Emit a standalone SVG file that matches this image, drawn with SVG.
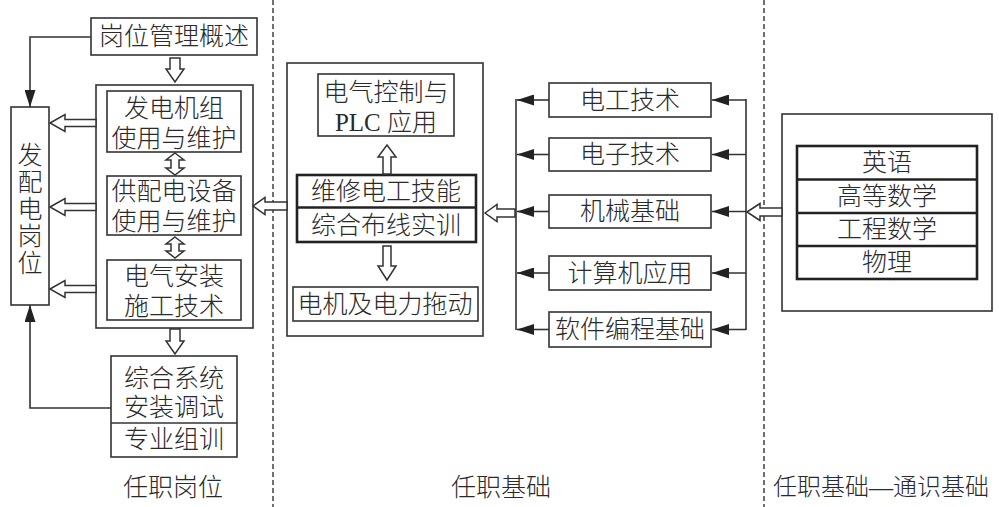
<svg xmlns="http://www.w3.org/2000/svg" width="999" height="507" viewBox="0 0 999 507">
<style>
text{font-family:"Liberation Serif","Noto Sans CJK SC",serif;font-size:25px;font-weight:300;fill:#2a2a2a;text-anchor:middle;dominant-baseline:central}
.box{fill:#fff;stroke:#333;stroke-width:1.6}
.thick{fill:none;stroke:#222;stroke-width:2.6}
.line{fill:none;stroke:#333;stroke-width:1.6}
.hollow{fill:#fff;stroke:#333;stroke-width:1.5;stroke-linejoin:miter}
.dash{stroke:#333;stroke-width:1.4;stroke-dasharray:5,3}
</style>
<defs>
<marker id="ah" markerUnits="userSpaceOnUse" markerWidth="17" markerHeight="11" viewBox="0 0 17 11" refX="17" refY="5.5" orient="auto">
<path d="M0,0 L17,5.5 L0,11 z" fill="#222"/>
</marker>
</defs>
<rect width="999" height="507" fill="#fff"/>
<g id="dividers">
<line class="dash" x1="273" y1="0" x2="273" y2="507"/>
<line class="dash" x1="764" y1="0" x2="764" y2="507"/>
</g>
<!-- left column -->
<g id="n_gwglgs"><rect class="box" x="91" y="18" width="166" height="37"/><text x="174" y="36.5">岗位管理概述</text></g>
<g id="n_fpdgw"><rect class="box" x="11" y="107" width="38" height="198"/>
<text x="30" y="155">发</text><text x="30" y="182">配</text><text x="30" y="209">电</text><text x="30" y="236">岗</text><text x="30" y="263">位</text></g>
<g id="n_leftouter"><rect class="box" x="96" y="85" width="157" height="243"/></g>
<g id="n_fdjz"><rect class="box" x="107" y="91" width="134" height="61"/><text x="174" y="108">发电机组</text><text x="174" y="138">使用与维护</text></g>
<g id="n_gpdsb"><rect class="box" x="107" y="176" width="134" height="59"/><text x="174" y="191">供配电设备</text><text x="174" y="221">使用与维护</text></g>
<g id="n_dqaz"><rect class="box" x="107" y="260" width="134" height="60"/><text x="174" y="276">电气安装</text><text x="174" y="306">施工技术</text></g>
<g id="n_zhxt"><rect class="box" x="111" y="356" width="126" height="101"/><line class="line" x1="111" y1="423" x2="237" y2="423"/>
<text x="174" y="378">综合系统</text><text x="174" y="407">安装调试</text><text x="174" y="439">专业组训</text></g>
<!-- middle column -->
<g id="n_midouter"><rect class="box" x="287" y="63" width="196" height="273"/></g>
<g id="n_dqkz"><rect class="box" x="318" y="74" width="136" height="62"/><text x="386" y="92">电气控制与</text><text x="386" y="122">PLC 应用</text></g>
<g id="n_wxdg"><rect class="box" x="297" y="175" width="179" height="67"/><rect class="thick" x="297" y="175" width="179" height="67"/><line class="thick" x1="297" y1="207.5" x2="476" y2="207.5"/>
<text x="386" y="191">维修电工技能</text><text x="386" y="225">综合布线实训</text></g>
<g id="n_djdl"><rect class="box" x="293" y="287" width="185" height="34"/><text x="385" y="304">电机及电力拖动</text></g>
<!-- right-middle column -->
<g id="n_dgjs"><rect class="box" x="549" y="83" width="162" height="34"/><text x="630" y="100">电工技术</text></g>
<g id="n_dzjs"><rect class="box" x="549" y="138" width="162" height="33"/><text x="630" y="154.5">电子技术</text></g>
<g id="n_jxjc"><rect class="box" x="549" y="195" width="162" height="33"/><text x="630" y="211.5">机械基础</text></g>
<g id="n_jsjyy"><rect class="box" x="549" y="256" width="162" height="34"/><text x="630" y="273">计算机应用</text></g>
<g id="n_rjbc"><rect class="box" x="549" y="312" width="162" height="35"/><text x="630" y="329.5">软件编程基础</text></g>
<!-- right column -->
<g id="n_rightouter"><rect class="box" x="782" y="114" width="210" height="197"/></g>
<g id="n_tongshi"><rect class="thick" x="797" y="146" width="180" height="133"/>
<line class="thick" x1="797" y1="179.5" x2="977" y2="179.5"/><line class="thick" x1="797" y1="213" x2="977" y2="213"/><line class="thick" x1="797" y1="246" x2="977" y2="246"/>
<text x="887" y="162.5">英语</text><text x="887" y="196">高等数学</text><text x="887" y="229.5">工程数学</text><text x="887" y="262.5">物理</text></g>
<!-- connectors -->
<g id="connectors">
<polyline class="line" points="91,37 30,37 30,107" marker-end="url(#ah)"/>
<polyline class="line" points="111,408 30,408 30,305" marker-end="url(#ah)"/>
<polygon class="hollow" points="170,58 180,58 180,69 184,69 175,82 166,69 170,69"/>
<polygon class="hollow" points="175,153 184,160 179,160 179,168 184,168 175,175 166,168 171,168 171,160 166,160"/>
<polygon class="hollow" points="175,237 184,244 179,244 179,251 184,251 175,258 166,251 171,251 171,244 166,244"/>
<polygon class="hollow" points="170,329 180,329 180,341 184,341 175,354 166,341 170,341"/>
<polygon class="hollow" points="50,123 65,114.5 65,119.5 96,119.5 96,126.5 65,126.5 65,131.5"/>
<polygon class="hollow" points="50,207 65,198.5 65,203.5 96,203.5 96,210.5 65,210.5 65,215.5"/>
<polygon class="hollow" points="50,289 65,280.5 65,285.5 96,285.5 96,292.5 65,292.5 65,297.5"/>
<polygon class="hollow" points="253,206 265,197.5 265,202 287,202 287,210 265,210 265,214.5"/>
<polygon class="hollow" points="387,145 396,157 391,157 391,174 383,174 383,157 378,157"/>
<polygon class="hollow" points="383,246 391,246 391,266 396,266 387,280 378,266 383,266"/>
<polygon class="hollow" points="485,213 497,204.5 497,209 515,209 515,217 497,217 497,221.5"/>
<polygon class="hollow" points="747,212 760,203.5 760,208 782,208 782,216 760,216 760,220.5"/>
<line class="line" x1="516" y1="99" x2="516" y2="330"/>
<line class="line" x1="746" y1="99" x2="746" y2="330"/>
<line class="line" x1="549" y1="100" x2="517" y2="100" marker-end="url(#ah)"/>
<line class="line" x1="549" y1="154.5" x2="517" y2="154.5" marker-end="url(#ah)"/>
<line class="line" x1="549" y1="211.5" x2="517" y2="211.5" marker-end="url(#ah)"/>
<line class="line" x1="549" y1="273" x2="517" y2="273" marker-end="url(#ah)"/>
<line class="line" x1="549" y1="329.5" x2="517" y2="329.5" marker-end="url(#ah)"/>
<line class="line" x1="746" y1="100" x2="712" y2="100" marker-end="url(#ah)"/>
<line class="line" x1="746" y1="154.5" x2="712" y2="154.5" marker-end="url(#ah)"/>
<line class="line" x1="746" y1="211.5" x2="712" y2="211.5" marker-end="url(#ah)"/>
<line class="line" x1="746" y1="273" x2="712" y2="273" marker-end="url(#ah)"/>
<line class="line" x1="746" y1="329.5" x2="712" y2="329.5" marker-end="url(#ah)"/>
</g>
<g id="labels">
<text x="173" y="487">任职岗位</text>
<text x="501" y="487">任职基础</text>
<text x="773" y="487" style="text-anchor:start;font-size:24px">任职基础—通识基础</text>
</g>
</svg>
